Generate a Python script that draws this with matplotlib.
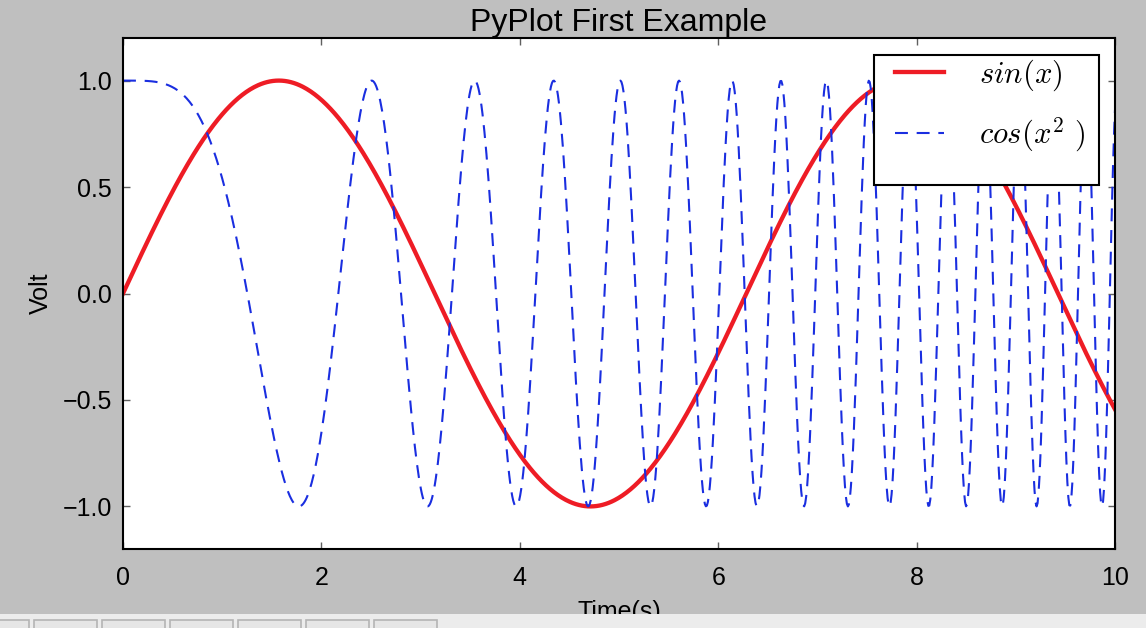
import numpy as np
import matplotlib
matplotlib.use("Agg")
import matplotlib.pyplot as plt
from matplotlib.patches import Rectangle

# Data: the curves named in the legend, sampled on a fine grid
x = np.linspace(0, 10, 1000)
y_sin = np.sin(x)
y_cos = np.cos(x ** 2)

title = "PyPlot First Example"
xlabel = "Time(s)"
ylabel = "Volt"
labels = [r"$sin(x)$", r"$cos(x^2\ )$"]
xticks = [0, 2, 4, 6, 8, 10]
yticks = [-1.0, -0.5, 0.0, 0.5, 1.0]

plt.rcParams['font.family'] = ['Liberation Sans', 'DejaVu Sans']
plt.rcParams['mathtext.fontset'] = 'cm'

W, H = 1146, 628
fig = plt.figure(figsize=(W / 100, H / 100), dpi=100, facecolor='#bfbfbf')
L, R, T, B = 123, 1115, 38, 549
ax = fig.add_axes([L / W, 1 - B / H, (R - L) / W, (B - T) / H])
ax.set_facecolor('white')

red = '#ee1c25'
blue = '#1a2ee0'
l1, = ax.plot(x, y_sin, color=red, lw=3.1, label=labels[0])
l2, = ax.plot(x, y_cos, color=blue, lw=1.5, ls=(0, (6.2, 4.2)), label=labels[1])

ax.set_xlim(0, 10)
ax.set_ylim(-1.2, 1.2)
ax.set_xticks(xticks)
ax.set_xticklabels([str(t) for t in xticks])
ax.set_yticks(yticks)
ax.set_yticklabels([f"{t:.1f}".replace('-', '\u2212') for t in yticks])

for s in ax.spines.values():
    s.set_linewidth(1.5)
    s.set_color('black')

ax.tick_params(direction='in', length=5, width=1, color='#606060',
               top=True, right=True, labelsize=18)
ax.tick_params(axis='x', pad=12)
ax.tick_params(axis='y', pad=8)

ax.set_title(title, fontsize=23, pad=5)
ax.set_xlabel(xlabel, fontsize=18)
ax.set_ylabel(ylabel, fontsize=18)
ax.xaxis.set_label_coords(0.5, (B - 600) / (B - T))
ax.yaxis.set_label_coords((53 - L) / (R - L), 0.5)

# legend (frame drawn separately)
leg = ax.legend(loc='center left',
                bbox_to_anchor=((895 - L) / (R - L), (B - 106) / (B - T)),
                frameon=False, fontsize=22, borderpad=0, borderaxespad=0,
                handlelength=1.6, handletextpad=1.15, labelspacing=0.75)
ax.add_patch(Rectangle(((874 - L) / (R - L), (B - 185) / (B - T)),
                       (1099 - 874) / (R - L), (185 - 55) / (B - T),
                       transform=ax.transAxes, facecolor='white',
                       edgecolor='black', lw=1.5, zorder=4.5))
leg.set_zorder(5)

# window toolbar strip at the bottom
fig.patches.append(Rectangle((0, 0), 1, 14 / H, transform=fig.transFigure,
                             facecolor='#ececec', edgecolor='none', zorder=10))
for x0, x1 in [(-5, 29), (34, 97), (102, 165), (170, 233), (238, 301), (306, 369), (374, 437)]:
    fig.patches.append(Rectangle((x0 / W, -0.01), (x1 - x0) / W, (628 - 620) / H + 0.01,
                                 transform=fig.transFigure, facecolor='#e6e6e6',
                                 edgecolor='#b4b4b4', lw=1.2, zorder=11))

fig.savefig('out.png', dpi=100, facecolor=fig.get_facecolor())
